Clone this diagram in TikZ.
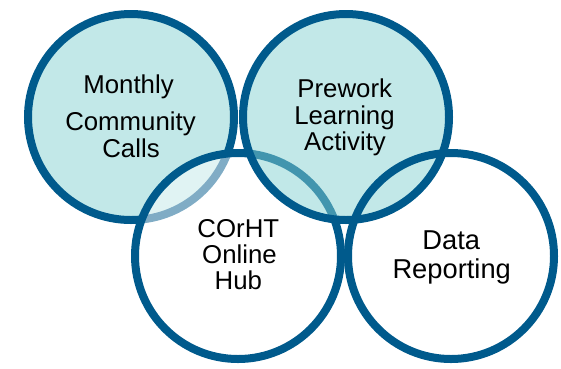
\documentclass[tikz,border=0pt]{standalone}
\usepackage{fontspec}
\setmainfont{Liberation Sans}
\definecolor{ringc}{RGB}{0,90,140}
\definecolor{tealfill}{RGB}{133,209,209}
\begin{document}
\begin{tikzpicture}[x=1pt,y=-1pt,
  ring/.style={circle, inner sep=0pt, minimum size=206pt, draw=ringc, line width=8pt},
  lbl/.style={anchor=base, inner sep=0pt, font=\fontsize{25.8}{28}\selectfont},
  biglbl/.style={anchor=base, inner sep=0pt, font=\fontsize{27.3}{30}\selectfont}]
\useasboundingbox (0,0) rectangle (561,368);
\node[ring, fill=tealfill, fill opacity=0.5] (mcc) at (131,117) {};
\node[ring, fill=white, fill opacity=0.5] (hub) at (238,256) {};
\node[ring, fill=tealfill, fill opacity=0.5] (pla) at (346,117) {};
\node[ring] (dr) at (451,256) {};
% Monthly Community Calls
\node[lbl] (mcc1) at (128.5,93) {Monthly};
\node[lbl] (mcc2) at (130.5,130) {Community};
\node[lbl] (mcc3) at (131,157) {Calls};
% Prework Learning Activity
\node[lbl] (pla1) at (344.7,97.3) {Prework};
\node[lbl] (pla2) at (344.5,124.3) {Learning};
\node[lbl] (pla3) at (345,150.7) {Activity};
% COrHT Online Hub
\node[lbl] (hub1) at (238.3,237.3) {COrHT};
\node[lbl] (hub2) at (239.5,263.3) {Online};
\node[lbl] (hub3) at (238.3,289.3) {Hub};
% Data Reporting
\node[biglbl] (dr1) at (451.3,249.3) {Data};
\node[biglbl] (dr2) at (451.7,278.3) {Reporting};
\end{tikzpicture}
\end{document}
